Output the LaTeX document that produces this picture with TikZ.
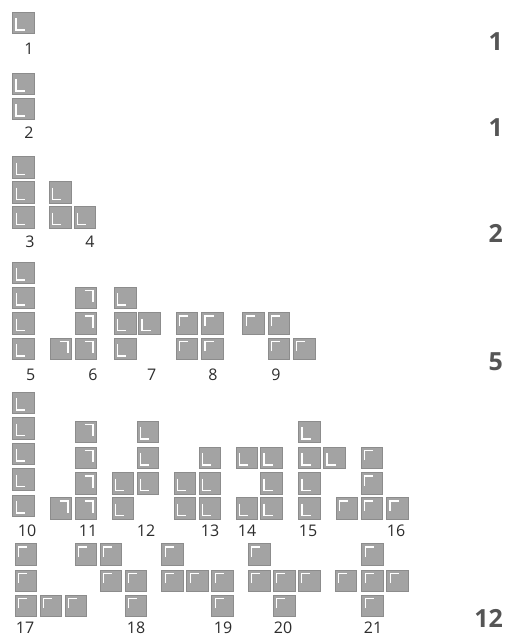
\documentclass[tikz,border=0pt]{standalone}
\usepackage{fontspec}
\setmainfont{Open Sans}
\definecolor{sqgray}{RGB}{163,163,163}
\definecolor{sqedge}{RGB}{140,140,140}
\definecolor{numgray}{RGB}{85,85,85}
\definecolor{labgray}{RGB}{45,45,45}
\tikzset{
  sqfill/.style={fill=sqgray, draw=sqedge, line width=0.6pt},
  hl/.style={draw=white, line width=1.3pt},
  lab/.style={font=\fontsize{16}{16}\selectfont, text=labgray, inner sep=0pt},
  bignum/.style={font=\fontsize{25}{25}\selectfont\bfseries, text=numgray, inner sep=0pt, anchor=east}
}
% L mark: left + bottom
\newcommand\sqL[2]{\path[sqfill] (#1,#2) rectangle ++(21.5,21.5);
  \draw[hl] (#1+3.5,#2+6) -- (#1+3.5,#2+18) -- (#1+12,#2+18);}
% Gamma mark: top + left
\newcommand\sqG[2]{\path[sqfill] (#1,#2) rectangle ++(21.5,21.5);
  \draw[hl] (#1+3.5,#2+13) -- (#1+3.5,#2+3.5) -- (#1+12,#2+3.5);}
% mirrored Gamma: top + right
\newcommand\sqR[2]{\path[sqfill] (#1,#2) rectangle ++(21.5,21.5);
  \draw[hl] (#1+9.5,#2+3.5) -- (#1+18,#2+3.5) -- (#1+18,#2+15);}
\begin{document}
\begin{tikzpicture}[x=1pt,y=-1pt]
\useasboundingbox[fill=white] (0,0) rectangle (505,638);
% shape 1
\sqL{12.5}{12}
\node[lab] (l1) at (29,49) {1};
% shape 2
\sqL{12.5}{73} \sqL{12.5}{98}
\node[lab] (l2) at (29,133) {2};
% shape 3
\sqL{12.7}{156.7} \sqL{12.7}{181.7} \sqL{12.7}{206.7}
\node[lab] (l3) at (30,242) {3};
% shape 4
\sqL{49.3}{181.7} \sqL{49.3}{206.7} \sqL{74}{206.7}
\node[lab] (l4) at (90,242) {4};
% shape 5
\sqL{12.7}{262} \sqL{12.7}{287} \sqL{12.7}{312.5} \sqL{12.7}{338}
\node[lab] (l5) at (30.7,375) {5};
% shape 6
\sqR{75}{287} \sqR{75}{312.5} \sqR{75}{338} \sqR{50}{338}
\node[lab] (l6) at (93,375) {6};
% shape 7
\sqL{114.3}{287} \sqL{114.3}{312.5} \sqL{114.3}{338} \sqL{138.5}{312.5}
\node[lab] (l7) at (151.7,375) {7};
% shape 8
\sqG{176}{312.5} \sqG{201.5}{312.5} \sqG{176}{338} \sqG{201.5}{338}
\node[lab] (l8) at (213,375) {8};
% shape 9
\sqG{242.7}{312.5} \sqG{268}{312.5} \sqG{268}{338} \sqG{293.3}{338}
\node[lab] (l9) at (276,375) {9};
% shape 10
\sqL{12.7}{392} \sqL{12.7}{417.5} \sqL{12.7}{443} \sqL{12.7}{468.5} \sqL{12.7}{495}
\node[lab] (l10) at (27,531) {10};
% shape 11
\sqR{75}{421} \sqR{75}{447} \sqR{75}{472.5} \sqR{75}{497.5} \sqR{50}{497.5}
\node[lab] (l11) at (88,531) {11};
% shape 12
\sqL{137}{421} \sqL{137}{447} \sqL{137}{472.5} \sqL{112}{472.5} \sqL{112}{497.5}
\node[lab] (l12) at (146,531) {12};
% shape 13
\sqL{199}{447} \sqL{199}{472.5} \sqL{199}{497.5} \sqL{174}{472.5} \sqL{174}{497.5}
\node[lab] (l13) at (210,531) {13};
% shape 14
\sqL{236}{447} \sqL{236}{497.5} \sqL{260.5}{447} \sqL{260.5}{472.5} \sqL{260.5}{497.5}
\node[lab] (l14) at (247,531) {14};
% shape 15
\sqL{298.5}{421} \sqL{298.5}{447} \sqL{298.5}{472.5} \sqL{298.5}{497.5} \sqL{323.5}{447}
\node[lab] (l15) at (308,531) {15};
% shape 16
\sqG{361}{447} \sqG{361}{472.5} \sqG{361}{497.5} \sqG{336}{497.5} \sqG{386.5}{497.5}
\node[lab] (l16) at (396,531) {16};
% shape 17
\sqG{15}{543.5} \sqG{15}{570} \sqG{15}{595} \sqG{40}{595} \sqG{65}{595}
\node[lab] (l17) at (25,628) {17};
% shape 18
\sqG{75}{543.5} \sqG{100}{543.5} \sqG{100}{570} \sqG{125}{570} \sqG{125}{595}
\node[lab] (l18) at (136,628) {18};
% shape 19
\sqG{161.7}{543.5} \sqG{161.7}{570} \sqG{186.7}{570} \sqG{211.7}{570} \sqG{211.7}{595}
\node[lab] (l19) at (223,628) {19};
% shape 20
\sqG{248.3}{543.5} \sqG{248.3}{570} \sqG{273.3}{570} \sqG{298.3}{570} \sqG{273.3}{595}
\node[lab] (l20) at (283,628) {20};
% shape 21
\sqG{361.7}{543.5} \sqG{335}{570} \sqG{361.7}{570} \sqG{386.7}{570} \sqG{361.7}{595}
\node[lab] (l21) at (373,628) {21};
% counts on the right
\node[bignum] (c1) at (503,42) {1};
\node[bignum] (c2) at (503,128) {1};
\node[bignum] (c3) at (503,233) {2};
\node[bignum] (c4) at (503,362) {5};
\node[bignum] (c5) at (503,618) {12};
\end{tikzpicture}
\end{document}
